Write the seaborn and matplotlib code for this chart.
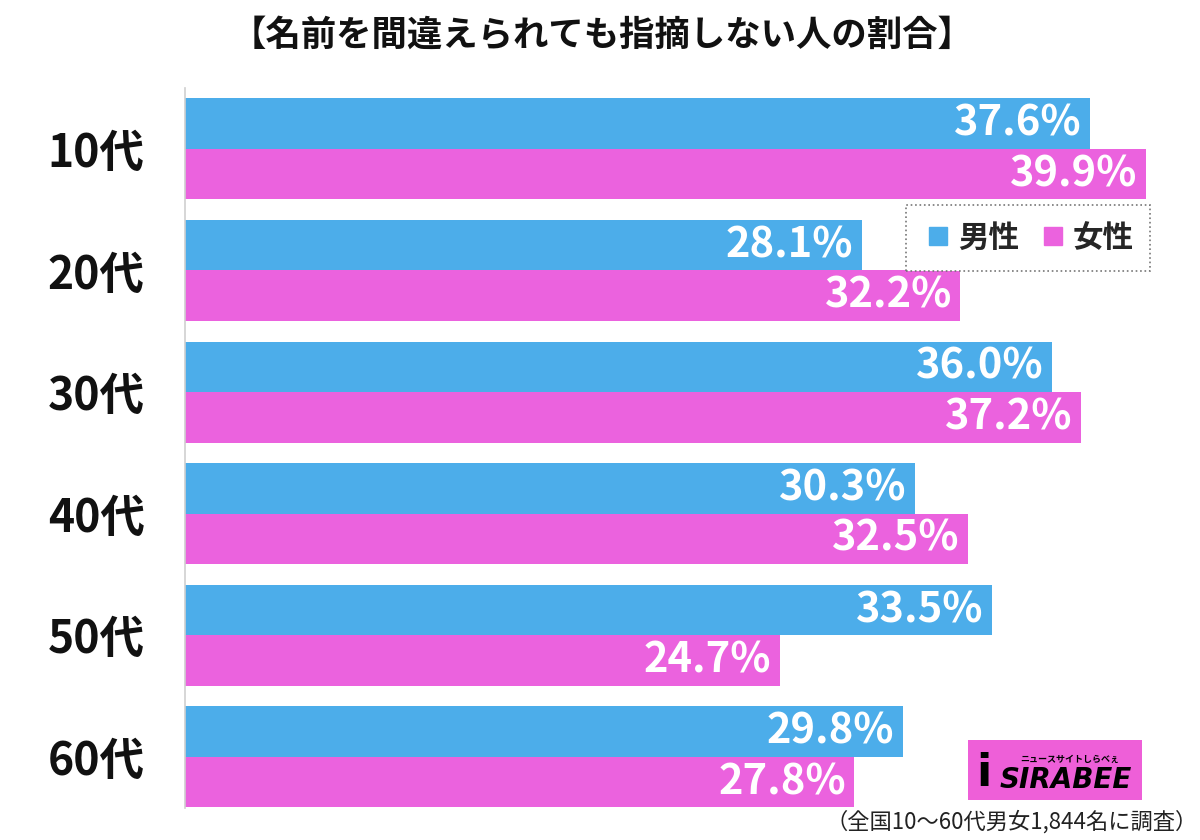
import matplotlib
matplotlib.use("Agg")
import matplotlib.pyplot as plt
import seaborn as sns
import pandas as pd
from matplotlib.lines import Line2D
from matplotlib.patches import Rectangle

categories = ["10代", "20代", "30代", "40代", "50代", "60代"]
series_names = ["男性", "女性"]
male = [37.6, 28.1, 36.0, 30.3, 33.5, 29.8]
female = [39.9, 32.2, 37.2, 32.5, 24.7, 27.8]
title = "【名前を間違えられても指摘しない人の割合】"
note = "（全国10〜60代男女1,844名に調査）"
colors = ["#4CADEA", "#EB62DE"]

sns.set_theme(style="white")
plt.rcParams["font.family"] = ["Noto Sans CJK JP", "DejaVu Sans"]

df = pd.DataFrame({
    "age": categories * 2,
    "sex": [series_names[0]] * len(categories) + [series_names[1]] * len(categories),
    "value": male + female,
})

fig = plt.figure(figsize=(12, 8.4), dpi=100)
ax = fig.add_axes([185 / 1200, 1 - 808 / 840, 975 / 1200, 720 / 840])

sns.barplot(data=df, y="age", x="value", hue="sex", order=categories,
            hue_order=series_names, palette=colors, orient="h",
            width=0.83, ax=ax, legend=False, saturation=1, edgecolor="none")

ax.set_xlim(0, 975 / 24.08)
ax.set_ylim(5.42, -0.5)
ax.set_xlabel("")
ax.set_ylabel("")
ax.set_xticks([])
ax.tick_params(axis="y", length=0, pad=29)
for lab in ax.get_yticklabels():
    lab.set_fontsize(32)
    lab.set_fontweight("bold")
    lab.set_color("#111111")
for s in ["top", "right", "bottom"]:
    ax.spines[s].set_visible(False)
ax.spines["left"].set_color("#cfcfcf")
ax.spines["left"].set_linewidth(1.2)

for cont in ax.containers:
    for p in cont.patches:
        w = p.get_width()
        y = p.get_y() + p.get_height() / 2
        ax.annotate(f"{w:.1f}%", (w, y), xytext=(-6, 0), textcoords="offset points",
                    ha="right", va="center", color="white", fontsize=30,
                    fontweight="bold")

handles = [Line2D([0], [0], marker="s", linestyle="none", markersize=13,
                  markerfacecolor=c, markeredgecolor=c) for c in colors]
leg = ax.legend(handles, series_names, loc="upper right",
                bbox_to_anchor=(0.99, (808 - 205) / 720), ncol=2,
                frameon=True, fancybox=False, handletextpad=0.15,
                handlelength=1.0, columnspacing=0.6, borderpad=0.55,
                borderaxespad=0, framealpha=1,
                prop={"size": 22, "weight": "bold"})
fr = leg.get_frame()
fr.set_edgecolor("#777777")
fr.set_linestyle(":")
fr.set_linewidth(1.2)

fig.text(0.502, 1 - 35 / 840, title, ha="center", va="center",
         fontsize=25.5, fontweight="bold", color="#111111")
fig.text(1198 / 1200, 1 - 822 / 840, note, ha="right", va="center",
         fontsize=16, color="#222222")

# logo
fig.patches.append(Rectangle((968 / 1200, 1 - 800 / 840), 174 / 1200, 60 / 840,
                             transform=fig.transFigure, facecolor="#EE5FD8",
                             edgecolor="none"))
fig.text(1000 / 1200, 1 - 780 / 840, "SIRABEE", ha="left", va="center",
         fontsize=20, fontweight="bold", style="italic", color="black",
         family="DejaVu Sans")
fig.text(1070 / 1200, 1 - 759 / 840, "ニュースサイトしらべぇ", ha="center",
         va="center", fontsize=6.5, fontweight="bold", color="black")
fig.text(984 / 1200, 1 - 774 / 840, "i", ha="center", va="center",
         fontsize=32, fontweight="bold", color="black", family="DejaVu Sans")

fig.savefig("out.png", dpi=100, facecolor="white")
